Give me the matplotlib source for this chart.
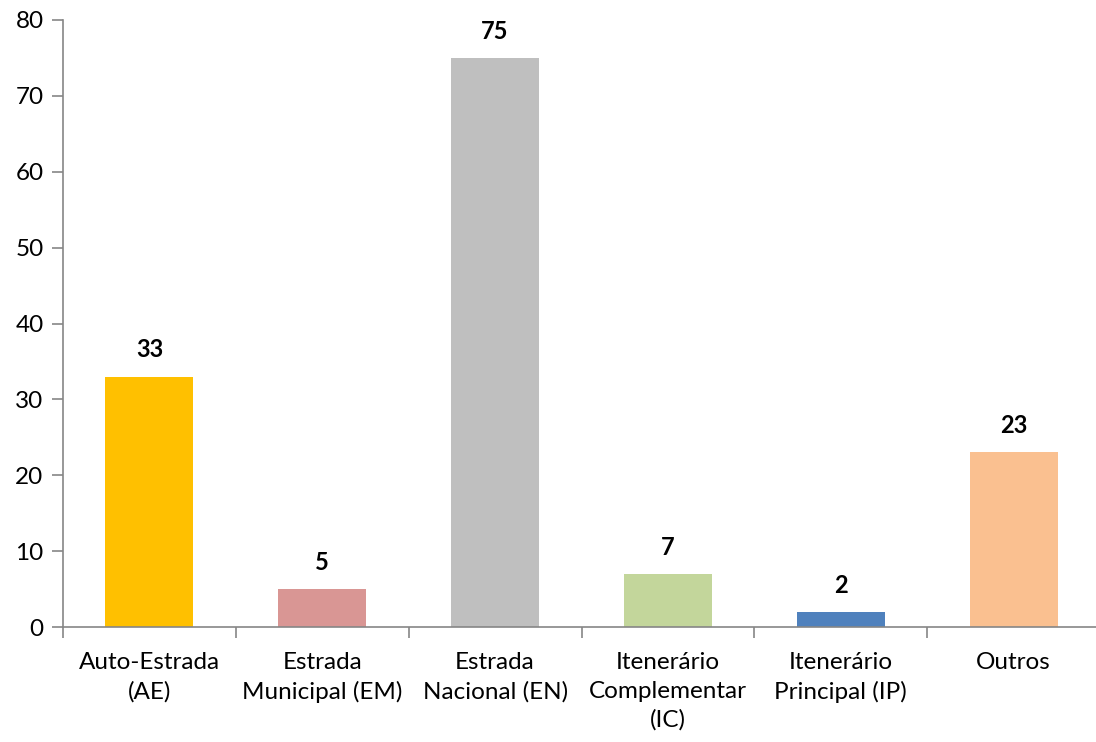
import matplotlib
matplotlib.use("Agg")
import matplotlib.pyplot as plt

categories = ["Auto-Estrada\n(AE)", "Estrada\nMunicipal (EM)", "Estrada\nNacional (EN)",
              "Itenerário\nComplementar\n(IC)", "Itenerário\nPrincipal (IP)", "Outros"]
values = [33, 5, 75, 7, 2, 23]
colors = ["#FFC000", "#D99694", "#BFBFBF", "#C3D69B", "#4F81BD", "#FAC090"]
yticks = [0, 10, 20, 30, 40, 50, 60, 70, 80]

plt.rcParams['font.family'] = ['Lato', 'DejaVu Sans']

fig = plt.figure(figsize=(10.96, 7.42), dpi=100)
ax = fig.add_axes([63/1096, 1-627/742, 1037/1096, (627-20)/742])

x = list(range(len(values)))
bars = ax.bar(x, values, width=0.51, color=colors, zorder=2)
for xi, v in zip(x, values):
    ax.text(xi, v + 2.0, str(v), ha='center', va='bottom', fontsize=17, fontweight='bold', color='black')

ax.set_xlim(-0.5, len(values) - 0.5)
ax.set_ylim(0, 80)
ax.set_yticks(yticks)
ax.set_yticklabels([str(t) for t in yticks], fontsize=17.5)
ax.set_xticks(x)
ax.set_xticklabels(categories, fontsize=17.5, linespacing=1.45)
ax.tick_params(axis='x', length=0, pad=18)
ax.set_xticks([i - 0.5 for i in range(len(values) + 1)], minor=True)
ax.tick_params(axis='x', which='minor', length=8, width=1.2, color='#868686', direction='out')
ax.tick_params(axis='y', length=8, width=1.2, color='#868686', direction='out', pad=6)

for s in ['top', 'right']:
    ax.spines[s].set_visible(False)
for s in ['left', 'bottom']:
    ax.spines[s].set_color('#868686')
    ax.spines[s].set_linewidth(1.2)

fig.savefig("out.png", dpi=100)
